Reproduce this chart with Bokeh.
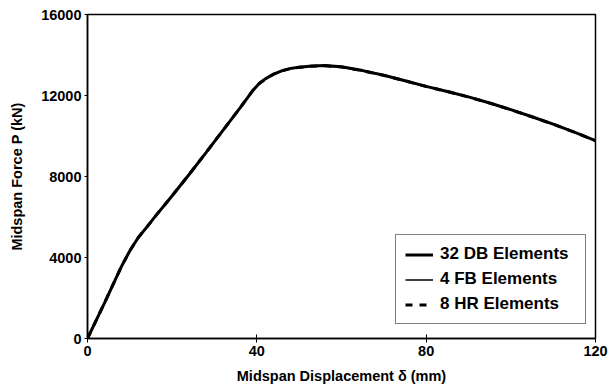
from bokeh.plotting import figure
from bokeh.models import Legend, LegendItem, Range1d, FixedTicker
from bokeh.embed import file_html
from bokeh.resources import INLINE

# Data (midspan displacement in mm, midspan force in kN)
disp_db = [0, 4, 8, 10, 12, 14, 16, 20, 24, 28, 32, 36, 39, 40.5, 42, 44, 46, 48, 50, 53, 56,
           60, 65, 70, 75, 80, 85, 90, 95, 100, 105, 110, 115, 120]
force_db = [0, 1750, 3550, 4330, 4990, 5500, 6030, 7050, 8100, 9180, 10280, 11380, 12230, 12580,
            12820, 13060, 13230, 13340, 13400, 13460, 13480, 13420, 13230, 13000, 12730, 12450,
            12200, 11930, 11630, 11300, 10950, 10590, 10190, 9770]
disp_fb = [0, 4, 8, 10, 12, 14, 16, 20, 24, 28, 32, 36, 39, 40.5, 42, 44, 46, 48, 50, 53, 56,
           60, 65, 70, 75, 80, 85, 90, 95, 100, 105, 110, 115, 120]
force_fb = [0, 1750, 3550, 4330, 4990, 5500, 6030, 7050, 8100, 9180, 10280, 11380, 12230, 12580,
            12810, 13050, 13210, 13320, 13380, 13440, 13460, 13400, 13210, 12990, 12720, 12440,
            12190, 11920, 11620, 11290, 10940, 10580, 10180, 9760]
disp_hr = [0, 4, 8, 10, 12, 14, 16, 20, 24, 28, 32, 36, 39, 40.5, 42, 44, 46, 48, 50, 53, 56,
           60, 65, 70, 75, 80, 85, 90, 95, 100, 105, 110, 115, 120]
force_hr = [0, 1750, 3550, 4330, 4990, 5500, 6030, 7050, 8100, 9180, 10280, 11380, 12230, 12580,
            12815, 13055, 13220, 13330, 13390, 13450, 13470, 13410, 13220, 12995, 12725, 12445,
            12195, 11925, 11625, 11295, 10945, 10585, 10185, 9765]

x_ticks = [0, 40, 80, 120]
y_ticks = [0, 4000, 8000, 12000, 16000]

FONT = "Liberation Sans"

p = figure(width=612, height=392, output_backend="svg", toolbar_location=None,
           x_range=Range1d(0, 120), y_range=Range1d(0, 16000),
           min_border_left=87, min_border_right=17, min_border_top=14, min_border_bottom=54)
p.grid.visible = False
p.outline_line_color = "black"
p.outline_line_width = 1.5
p.background_fill_color = "white"
p.border_fill_color = "white"

for ax in (p.xaxis[0], p.yaxis[0]):
    ax.axis_line_color = "black"
    ax.axis_line_width = 1.5
    ax.major_tick_line_color = "black"
    ax.major_tick_line_width = 1
    ax.minor_tick_line_color = None
    ax.major_label_text_font = FONT
    ax.major_label_text_font_style = "bold"
    ax.major_label_text_font_size = "14.5px"
    ax.major_label_text_color = "black"
    ax.axis_label_text_font = FONT
    ax.axis_label_text_font_style = "bold"
    ax.axis_label_text_font_size = "14.5px"
    ax.axis_label_text_color = "black"

p.xaxis.ticker = FixedTicker(ticks=x_ticks)
p.yaxis.ticker = FixedTicker(ticks=y_ticks)
p.xaxis.major_tick_in = 4
p.xaxis.major_tick_out = 4
p.yaxis.major_tick_in = 0
p.yaxis.major_tick_out = 3
p.xaxis.major_label_standoff = 3
p.yaxis.major_label_standoff = 3
p.xaxis.axis_label = "Midspan Displacement \u03b4 (mm)"
p.yaxis.axis_label = "Midspan Force P (kN)"
p.xaxis.axis_label_standoff = 9
p.yaxis.axis_label_standoff = 13

r_db = p.line(disp_db, force_db, line_color="black", line_width=3)
r_fb = p.line(disp_fb, force_fb, line_color="black", line_width=1.5)
r_hr = p.line(disp_hr, force_hr, line_color="black", line_width=3, line_dash="7 7")

legend = Legend(items=[
    LegendItem(label="32 DB Elements", renderers=[r_db]),
    LegendItem(label="4 FB Elements", renderers=[r_fb]),
    LegendItem(label="8 HR Elements", renderers=[r_hr]),
], location=(308, 14))
legend.border_line_color = "black"
legend.border_line_width = 1
legend.label_text_font = FONT
legend.label_text_font_style = "bold"
legend.label_text_font_size = "17px"
legend.label_text_color = "black"
legend.glyph_width = 28
legend.glyph_height = 19
legend.label_height = 19
legend.label_width = 136
legend.spacing = 5
legend.padding = 9
legend.margin = 0
legend.label_standoff = 7
legend.background_fill_alpha = 1
p.add_layout(legend, "center")

open("out.html", "w").write(file_html(p, INLINE))
